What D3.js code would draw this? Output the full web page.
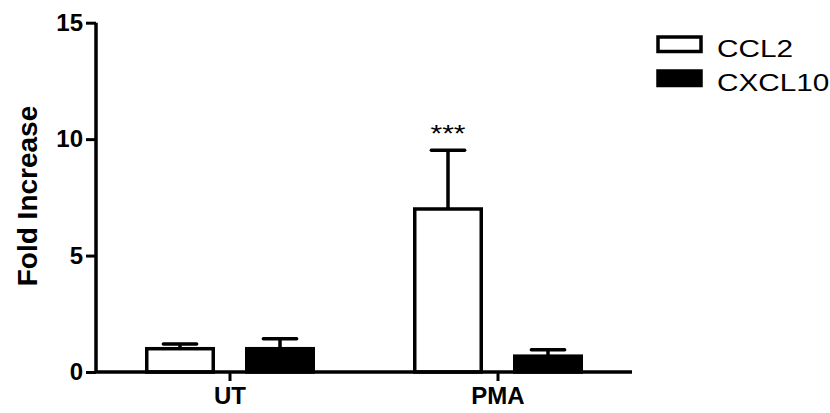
<!DOCTYPE html>
<html>
<head>
<meta charset="utf-8">
<script src="https://cdn.jsdelivr.net/npm/d3@7"></script>
<style>
  body { margin: 0; background: #fff; }
  text { font-family: "Liberation Sans", Arial, sans-serif; }
</style>
</head>
<body>
<div></div>
<script>
var groups = ["UT", "PMA"];
var series = ["CCL2", "CXCL10"];
var means = [[1.0, 1.0], [7.0, 0.68]];      // [group][series]
var upper = [[1.2, 1.43], [9.52, 0.96]];    // mean + error
var stars = ["", "***"];                     // per group, over CCL2
var yTicks = [0, 5, 10, 15];
var fills = ["#fff", "#000"];

var width = 830,
    height = 413;
var svg = d3.select("div")
    .append("svg")
    .attr("width", width)
    .attr("height", height);

var x0 = d3.scaleBand()
    .domain(groups)
    .range([96, 632]);

var x1 = d3.scaleBand()
    .domain(series)
    .range([0, x0.bandwidth()])
    .paddingInner(0.335)
    .paddingOuter(0.5075);

var y = d3.scaleLinear()
    .domain([0, 15])
    .range([372, 22.7]);

var sw = 3.5;

// bars
var g = svg.selectAll("g.group")
    .data(groups)
    .enter()
    .append("g")
    .attr("class", "group")
    .attr("transform", function (d) { return "translate(" + x0(d) + ",0)"; });

g.each(function (grp, gi) {
    var sel = d3.select(this);
    series.forEach(function (s, si) {
        var bx = x1(s), bw = x1.bandwidth();
        var cx = bx + bw / 2;
        // error bar (upper only)
        sel.append("line")
            .attr("x1", cx).attr("x2", cx)
            .attr("y1", y(means[gi][si])).attr("y2", y(upper[gi][si]))
            .attr("stroke", "#000").attr("stroke-width", sw);
        sel.append("line")
            .attr("x1", cx - bw / 4).attr("x2", cx + bw / 4)
            .attr("y1", y(upper[gi][si])).attr("y2", y(upper[gi][si]))
            .attr("stroke", "#000").attr("stroke-width", sw)
            .attr("stroke-linecap", "round");
        sel.append("rect")
            .attr("x", bx)
            .attr("width", bw)
            .attr("y", y(means[gi][si]))
            .attr("height", y(0) - y(means[gi][si]))
            .attr("fill", fills[si])
            .attr("stroke", "#000")
            .attr("stroke-width", sw);
    });
    if (stars[gi]) {
        var sx = x1(series[0]) + x1.bandwidth() / 2;
        sel.append("text")
            .attr("transform", "translate(" + sx + "," + (y(upper[gi][0]) - 8) + ") scale(1.25,1)")
            .attr("text-anchor", "middle")
            .attr("font-size", 24)
            .text(stars[gi]);
    }
});

// axes
var yAxis = svg.append("g")
    .attr("transform", "translate(96,0)")
    .call(d3.axisLeft(y).tickValues(yTicks).tickSize(10).tickPadding(3).tickFormat(d3.format("d")));

var xAxis = svg.append("g")
    .attr("transform", "translate(0,372)")
    .call(d3.axisBottom(x0).tickSize(9).tickPadding(6).tickSizeOuter(0));

[yAxis, xAxis].forEach(function (a) {
    a.select(".domain").attr("stroke-width", sw);
    a.selectAll(".tick line").attr("stroke-width", 3);
    a.selectAll("text")
        .attr("font-size", 24)
        .attr("font-weight", "bold")
        .attr("fill", "#000")
        .style("font-family", "\"Liberation Sans\", Arial, sans-serif");
});
yAxis.select(".domain").attr("d", "M0,372V22.7");
xAxis.select(".domain").attr("d", "M96,0H632");

svg.append("text")
    .attr("transform", "translate(37,196) rotate(-90)")
    .attr("text-anchor", "middle")
    .attr("font-size", 28)
    .attr("font-weight", "bold")
    .text("Fold Increase");

// legend
var leg = svg.selectAll("g.legend")
    .data(series)
    .enter()
    .append("g")
    .attr("class", "legend")
    .attr("transform", function (d, i) { return "translate(658," + (37 + i * 34) + ")"; });

leg.append("rect")
    .attr("width", 43)
    .attr("height", 14.5)
    .attr("fill", function (d, i) { return fills[i]; })
    .attr("stroke", "#000")
    .attr("stroke-width", sw);

leg.append("text")
    .attr("transform", "translate(59,19.5) scale(1.24,1)")
    .attr("font-size", 24)
    .text(function (d) { return d; });
</script>
</body>
</html>
